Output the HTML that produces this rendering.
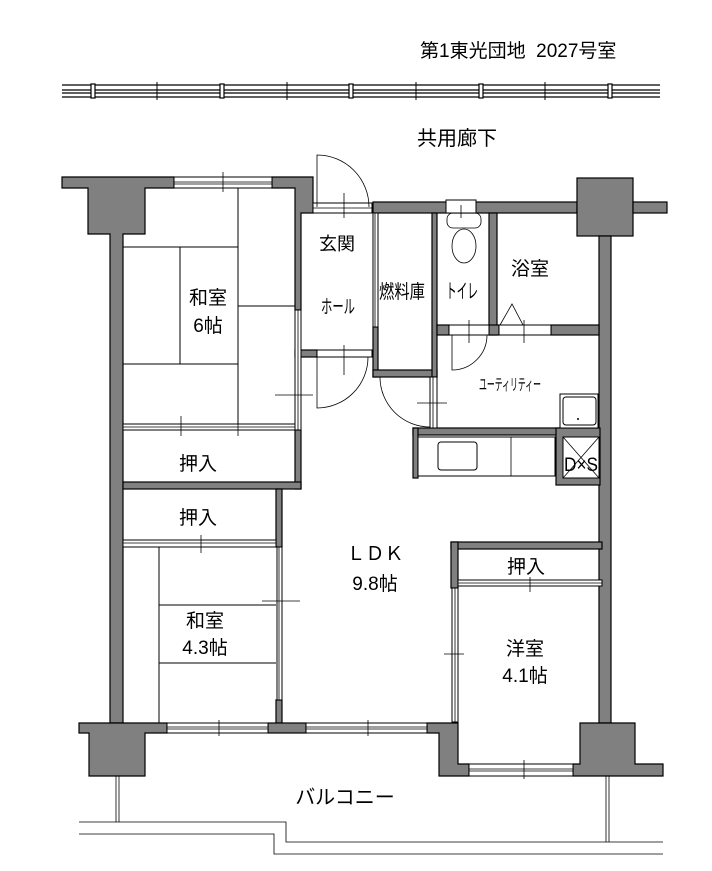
<!DOCTYPE html>
<html><head><meta charset="utf-8"><style>
html,body{margin:0;padding:0;background:#fff;}
svg{display:block;}
text{font-family:"Liberation Sans","Noto Sans CJK JP",sans-serif;fill:#000;}
</style></head><body>
<svg width="712" height="871" viewBox="0 0 712 871" xmlns="http://www.w3.org/2000/svg">
<g fill="none" stroke="#000" stroke-width="1.2">
<line x1="62" y1="85" x2="660" y2="85"/><line x1="62" y1="90" x2="660" y2="90"/>
<line x1="62" y1="93" x2="660" y2="93"/><line x1="62" y1="97" x2="660" y2="97"/>
</g>
<g fill="#fff" stroke="#000" stroke-width="1.2">
<rect x="91" y="84" width="4" height="14"/><rect x="220" y="84" width="4" height="14"/>
<rect x="349" y="84" width="4" height="14"/><rect x="479" y="84" width="4" height="14"/>
<rect x="608" y="84" width="4" height="14"/>
</g>
<g stroke="#000" stroke-width="1">
<line x1="157" y1="82" x2="157" y2="100"/><line x1="287" y1="82" x2="287" y2="100"/>
<line x1="416" y1="82" x2="416" y2="100"/><line x1="545" y1="82" x2="545" y2="100"/>
</g>

<g fill="#808080" stroke="#000" stroke-width="1.2">
<polygon points="62,177 174,177 174,188 145,188 145,234 123,234 123,723 110,723 110,234 88,234 88,188 62,188"/>
<polygon points="272,177 313,177 313,213 301,213 301,310 295,310 295,188 272,188"/>
<rect x="295" y="350" width="22" height="7"/>
<rect x="373" y="202" width="204" height="11"/>
<rect x="577" y="178" width="56" height="58"/>
<rect x="633" y="202" width="34" height="11"/>
<rect x="599" y="236" width="12" height="487"/>
<rect x="373" y="327" width="5" height="50"/>
<rect x="373" y="370" width="64" height="7"/>
<rect x="432" y="213" width="5" height="164"/>
<rect x="489" y="213" width="8" height="122"/>
<rect x="437" y="325" width="12" height="10"/>
<rect x="489" y="325" width="10" height="10"/>
<rect x="551" y="325" width="48" height="10"/>
<rect x="413" y="428" width="186" height="7"/>
<rect x="413" y="428" width="5" height="50"/>
<rect x="556" y="428" width="44" height="57"/>
<rect x="295" y="430" width="6" height="59"/>
<rect x="123" y="482" width="178" height="7"/>
<rect x="276" y="489" width="6" height="58"/>
<rect x="276" y="700" width="6" height="23"/>
<polygon points="79,723 167,723 167,733 145,733 145,776 89,776 89,733 79,733"/>
<rect x="268" y="723" width="38" height="10"/>
<rect x="451" y="542" width="151" height="7"/>
<rect x="451" y="542" width="7" height="46"/>
<polygon points="427,723 458,723 458,764 469,764 469,776 439,776 439,733 427,733"/>
<polygon points="573,764 580,764 580,723 635,723 635,764 663,764 663,776 573,776"/>
</g>

<g fill="#fff" stroke="#000" stroke-width="1">
<rect x="174" y="177" width="98" height="11"/>
<rect x="313" y="203" width="59" height="10"/>
<rect x="373" y="213" width="5" height="114"/>
<rect x="446" y="200" width="30" height="13"/>
<rect x="295" y="310" width="6" height="120"/>
<rect x="317" y="350" width="55" height="7"/>
<rect x="430" y="377" width="7" height="51"/>
<rect x="449" y="325" width="40" height="10"/>
<rect x="499" y="325" width="52" height="10"/>
<rect x="123" y="424" width="172" height="6"/>
<rect x="123" y="540" width="153" height="7"/>
<rect x="277" y="547" width="5" height="153"/>
<rect x="167" y="723" width="101" height="10"/>
<rect x="306" y="723" width="121" height="10"/>
<rect x="458" y="580" width="144" height="6"/>
<rect x="452" y="588" width="6" height="134"/>
<rect x="469" y="764" width="104" height="12"/>
<rect x="418" y="437" width="137" height="39"/>
<rect x="438" y="442" width="39" height="28" rx="3"/>
<rect x="560" y="394" width="38" height="34"/>
<rect x="563" y="397" width="33" height="28" rx="3"/>
<rect x="563" y="437" width="36" height="41"/>
</g>
<g stroke="#000" stroke-width="0.8" fill="none">
<line x1="174" y1="182" x2="272" y2="182"/><line x1="174" y1="184" x2="272" y2="184"/>
<line x1="313" y1="208" x2="372" y2="208"/>
<line x1="375" y1="213" x2="375" y2="327"/>
<line x1="298" y1="310" x2="298" y2="430"/>
<line x1="123" y1="427" x2="295" y2="427"/>
<line x1="123" y1="543" x2="276" y2="543"/>
<line x1="279" y1="547" x2="279" y2="700"/>
<line x1="167" y1="727" x2="268" y2="727"/><line x1="167" y1="729" x2="268" y2="729"/>
<line x1="306" y1="727" x2="427" y2="727"/><line x1="306" y1="729" x2="427" y2="729"/>
<line x1="458" y1="583" x2="602" y2="583"/>
<line x1="455" y1="588" x2="455" y2="722"/>
<line x1="469" y1="769" x2="573" y2="769"/><line x1="469" y1="771" x2="573" y2="771"/>
<line x1="433" y1="377" x2="433" y2="428"/>
<line x1="511" y1="437" x2="511" y2="476"/>
<line x1="563" y1="437" x2="599" y2="478"/><line x1="599" y1="437" x2="563" y2="478"/>
<line x1="223" y1="172" x2="223" y2="192"/>
<line x1="344" y1="193" x2="344" y2="218"/>
<line x1="344" y1="345" x2="344" y2="375"/>
<line x1="275" y1="395" x2="313" y2="395"/>
<line x1="181" y1="416" x2="181" y2="436"/><line x1="238" y1="416" x2="238" y2="436"/>
<line x1="201" y1="535" x2="201" y2="553"/>
<line x1="262" y1="601" x2="300" y2="601"/>
<line x1="219" y1="720" x2="219" y2="736"/><line x1="368" y1="720" x2="368" y2="736"/>
<line x1="444" y1="654" x2="464" y2="654"/>
<line x1="530" y1="577" x2="530" y2="592"/>
<line x1="524" y1="760" x2="524" y2="779"/>
<line x1="417" y1="403" x2="447" y2="403"/>
<line x1="469" y1="320" x2="469" y2="343"/>
<line x1="524" y1="320" x2="524" y2="343"/>
<line x1="461" y1="205" x2="461" y2="218"/>
</g>

<g stroke="#000" stroke-width="1" fill="none">
<line x1="123" y1="247" x2="238" y2="247"/>
<line x1="123" y1="364" x2="238" y2="364"/>
<line x1="180" y1="247" x2="180" y2="364"/>
<line x1="238" y1="188" x2="238" y2="424"/>
<line x1="238" y1="306" x2="295" y2="306"/>
<line x1="159" y1="547" x2="159" y2="723"/>
<line x1="159" y1="605" x2="276" y2="605"/>
<line x1="159" y1="663" x2="276" y2="663"/>
</g>

<g stroke="#000" stroke-width="0.8" fill="none">
<path d="M317,207 L317,155 A52,52 0 0 1 369,207"/>
<path d="M317,357 L317,408 A51,51 0 0 0 368,357"/>
<path d="M452,335 L452,370 A35,35 0 0 0 487,335"/>
<path d="M380,377 A50,50 0 0 0 430,427"/>
<polygon points="500,325 512,304 523,325"/>
<rect x="447" y="213" width="34" height="15" rx="6"/>
<ellipse cx="464" cy="246" rx="12" ry="17"/>
<line x1="116" y1="776" x2="116" y2="822"/><line x1="119" y1="776" x2="119" y2="822"/>
<line x1="606" y1="776" x2="606" y2="842"/><line x1="609" y1="776" x2="609" y2="842"/>
<polyline points="79,822 286,822 286,842 663,842"/>
<polyline points="79,834 274,834 274,854 663,854"/>
</g>
<circle cx="578" cy="419" r="1" fill="#000"/>

<text x="420" y="57" font-size="19">第1東光団地&#160;&#160;2027号室</text>
<text x="417" y="145" font-size="20">共用廊下</text>
<text x="208" y="304" font-size="19" text-anchor="middle">和室</text>
<text x="208" y="332" font-size="19" text-anchor="middle">6帖</text>
<text x="337" y="250" font-size="18" text-anchor="middle">玄関</text>
<text x="338" y="313" font-size="19" text-anchor="middle" textLength="34" lengthAdjust="spacingAndGlyphs">ホール</text>
<text x="402" y="298" font-size="19" text-anchor="middle" textLength="46" lengthAdjust="spacingAndGlyphs">燃料庫</text>
<text x="462" y="298" font-size="20" text-anchor="middle" textLength="32" lengthAdjust="spacingAndGlyphs">トイレ</text>
<text x="530" y="275" font-size="19" text-anchor="middle">浴室</text>
<text x="510" y="390" font-size="16" text-anchor="middle" textLength="62" lengthAdjust="spacingAndGlyphs">ユーティリティー</text>
<text x="581" y="471" font-size="19" text-anchor="middle" textLength="34" lengthAdjust="spacingAndGlyphs">D×S</text>
<text x="198" y="470" font-size="19" text-anchor="middle">押入</text>
<text x="198" y="524" font-size="19" text-anchor="middle">押入</text>
<text x="205" y="627" font-size="19" text-anchor="middle">和室</text>
<text x="205" y="654" font-size="19" text-anchor="middle">4.3帖</text>
<text x="375" y="560" font-size="19" text-anchor="middle">ＬＤＫ</text>
<text x="375" y="590" font-size="19" text-anchor="middle">9.8帖</text>
<text x="526" y="573" font-size="19" text-anchor="middle">押入</text>
<text x="525" y="655" font-size="19" text-anchor="middle">洋室</text>
<text x="525" y="682" font-size="19" text-anchor="middle">4.1帖</text>
<text x="345" y="804" font-size="20" text-anchor="middle">バルコニー</text>
</svg>
</body></html>
